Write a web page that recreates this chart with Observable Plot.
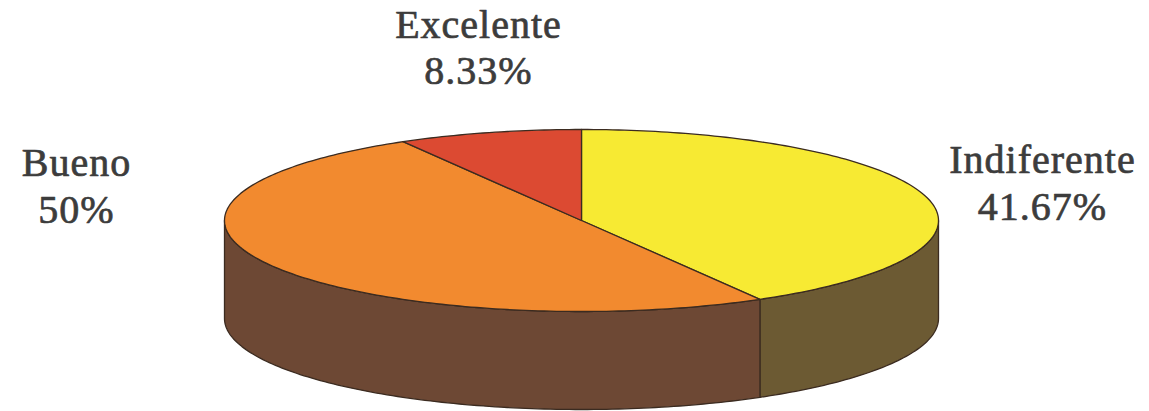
<!DOCTYPE html>
<html>
<head>
<meta charset="utf-8">
<script src="https://cdn.jsdelivr.net/npm/d3@7"></script>
<script src="https://cdn.jsdelivr.net/npm/@observablehq/plot@0.6"></script>
<style>
  html, body { margin: 0; padding: 0; background: #ffffff; }
  #chart svg { display: block; }
  #chart text { font-family: "Liberation Serif", serif; letter-spacing: 1px; }
</style>
</head>
<body>
<div id="chart"></div>
<script>
// ---- data ----
const categories = ["Indiferente", "Bueno", "Excelente"];
const values = [41.67, 50, 8.33];
const valueLabels = ["41.67%", "50%", "8.33%"];

// ---- styles ----
const topColors = ["#f7ea33", "#f28a2f", "#dc4a32"];
const sideColors = ["#6c5a33", "#6d4834", "#7a2e22"];
const outline = "#3b2b20";
const textColor = "#3c3c3c";

// ---- layout (pie geometry in plot units, label anchors) ----
const W = 1149, H = 411;
const pie = {cx: 581, cy: 220, rx: 357, ry: 91, depth: 98};
const labelAnchor = {
  Excelente: {x: 478, name: 37, pct: 83},
  Bueno: {x: 76, name: 175, pct: 222},
  Indiferente: {x: 1042, name: 172, pct: 219}
};

// angles clockwise from 12 o'clock, degrees
const total = d3.sum(values);
let acc = 0;
const slices = categories.map((c, i) => {
  const a0 = acc;
  acc += values[i] / total * 360;
  return {category: c, value: values[i], a0, a1: acc, i};
});

const rad = d => d * Math.PI / 180;
const pt = (deg, dy = 0) => ({x: pie.cx + pie.rx * Math.sin(rad(deg)), y: pie.cy - pie.ry * Math.cos(rad(deg)) + dy});
const arcPts = (a0, a1, dy = 0) => {
  const n = Math.max(2, Math.ceil(Math.abs(a1 - a0)));
  return d3.range(n + 1).map(k => pt(a0 + (a1 - a0) * k / n, dy));
};

// side walls: visible where the rim faces the viewer (90°..270°)
const sideMarks = slices.flatMap(s => {
  const b0 = Math.max(s.a0, 90), b1 = Math.min(s.a1, 270);
  if (b1 <= b0) return [];
  const poly = [...arcPts(b0, b1, 0), ...arcPts(b1, b0, pie.depth)];
  return [Plot.line(poly, {x: "x", y: "y", fill: sideColors[s.i], stroke: outline, strokeWidth: 1.3, curve: "linear-closed"})];
});

// top faces
const topMarks = slices.map(s => {
  const poly = [{x: pie.cx, y: pie.cy}, ...arcPts(s.a0, s.a1, 0)];
  return Plot.line(poly, {x: "x", y: "y", fill: topColors[s.i], stroke: outline, strokeWidth: 1.3, curve: "linear-closed"});
});

const labelData = slices.map(s => ({
  name: s.category,
  pct: valueLabels[s.i],
  x: labelAnchor[s.category].x,
  yName: labelAnchor[s.category].name,
  yPct: labelAnchor[s.category].pct
}));

const textStyle = {fontFamily: "Liberation Serif, serif", fontSize: 40, fill: textColor, stroke: textColor, strokeWidth: 0.7, textAnchor: "middle", lineAnchor: "bottom"};

const chart = Plot.plot({
  width: W,
  height: H,
  margin: 0,
  x: {domain: [0, W], range: [0, W], axis: null},
  y: {domain: [0, H], range: [0, H], axis: null},
  style: {background: "#ffffff", overflow: "visible"},
  marks: [
    ...sideMarks,
    ...topMarks,
    Plot.text(labelData, {x: "x", y: "yName", text: "name", ...textStyle}),
    Plot.text(labelData, {x: "x", y: "yPct", text: "pct", ...textStyle})
  ]
});
document.getElementById("chart").appendChild(chart);
</script>
</body>
</html>
